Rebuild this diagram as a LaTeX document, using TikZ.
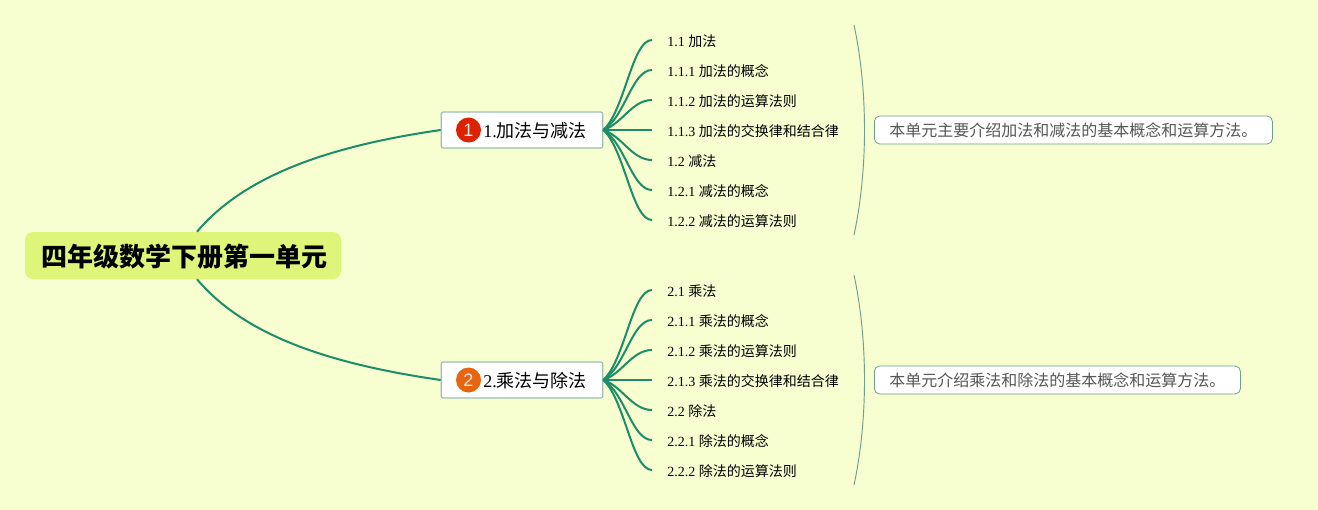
\documentclass[tikz,border=0pt]{standalone}
\usepackage{fontspec}
\setmainfont{Liberation Serif}
\newfontfamily\cjk{Noto Sans CJK SC}
\newfontfamily\badgefont{Liberation Sans}
\usetikzlibrary{positioning, calc}
\definecolor{paper}{HTML}{F7FFD1}
\definecolor{rootfill}{HTML}{DFF57A}
\definecolor{branch}{HTML}{1D8C68}
\definecolor{edgegray}{HTML}{9CBFB0}
\definecolor{bracegray}{HTML}{6E9E8C}
\definecolor{summarytext}{HTML}{555555}
\definecolor{badgered}{HTML}{DD2200}
\definecolor{badgeorange}{HTML}{E8650F}
\tikzstyle{rootbox} = [rectangle, rounded corners=6pt, fill=rootfill, align=center, minimum height=35.25pt, minimum width=237pt, inner sep=0pt, text height=20pt, text depth=4pt, font=\cjk\bfseries\fontsize{19.5}{22}\selectfont]
\tikzstyle{topicbox} = [draw=edgegray, rectangle, rounded corners=1.5pt, line width=0.9pt, fill=white, minimum height=27pt, inner xsep=12pt, inner ysep=0pt, text height=13.5pt, text depth=2.25pt, font=\fontsize{13.5}{16}\selectfont]
\tikzstyle{badge} = [circle, minimum size=18.75pt, inner sep=0pt, text=white!90!badgered, font=\badgefont\fontsize{13.5}{15}\selectfont]
\tikzstyle{leaf} = [anchor=west, inner xsep=11.25pt, inner ysep=0pt, text height=11.25pt, text depth=1.5pt, font=\fontsize{10.5}{13}\selectfont]
\tikzstyle{summary} = [draw=bracegray, rectangle, rounded corners=4pt, line width=0.6pt, fill=white, anchor=west, minimum height=21pt, inner xsep=11.25pt, inner ysep=0pt, text=summarytext, font=\cjk\fontsize{12}{14}\selectfont]
\tikzstyle{link} = [branch, line width=1.5pt]
\tikzstyle{bracket} = [bracegray, line width=0.7pt]

\begin{document}
\begin{tikzpicture}[x=0.75pt, y=-0.75pt]
        \fill[paper] (0,0) rectangle (1318,510);
        \useasboundingbox (0,0) rectangle (1318,510);
        \node[rootbox] (root) at (183,255.5) {\hspace*{2pt}四年级数学下册第一单元};
        \node[topicbox] (topica) at (522,130) {\hspace*{19.5pt}1.{\cjk 加法与减法}};
        \node[topicbox] (topicb) at (522,380) {\hspace*{19.5pt}2.{\cjk 乘法与除法}};
        \node[badge, fill=badgered] (badgea) at (468.5,130) {1};
        \node[badge, fill=badgeorange] (badgeb) at (468.5,380) {2};
        \node[leaf] (a1) at (652,40) {1.1 {\cjk 加法}};
        \node[leaf] (a2) at (652,70) {1.1.1 {\cjk 加法的概念}};
        \node[leaf] (a3) at (652,100) {1.1.2 {\cjk 加法的运算法则}};
        \node[leaf] (a4) at (652,130) {1.1.3 {\cjk 加法的交换律和结合律}};
        \node[leaf] (a5) at (652,160) {1.2 {\cjk 减法}};
        \node[leaf] (a6) at (652,190) {1.2.1 {\cjk 减法的概念}};
        \node[leaf] (a7) at (652,220) {1.2.2 {\cjk 减法的运算法则}};
        \node[leaf] (b1) at (652,290) {2.1 {\cjk 乘法}};
        \node[leaf] (b2) at (652,320) {2.1.1 {\cjk 乘法的概念}};
        \node[leaf] (b3) at (652,350) {2.1.2 {\cjk 乘法的运算法则}};
        \node[leaf] (b4) at (652,380) {2.1.3 {\cjk 乘法的交换律和结合律}};
        \node[leaf] (b5) at (652,410) {2.2 {\cjk 除法}};
        \node[leaf] (b6) at (652,440) {2.2.1 {\cjk 除法的概念}};
        \node[leaf] (b7) at (652,470) {2.2.2 {\cjk 除法的运算法则}};
        \node[summary] (notea) at (874,130) {本单元主要介绍加法和减法的基本概念和运算方法。};
        \node[summary] (noteb) at (874,380) {本单元介绍乘法和除法的基本概念和运算方法。};
        \coordinate (bracketa1) at (854,25);
        \coordinate (bracketa2) at (854,235);
        \coordinate (bracketb1) at (854,275);
        \coordinate (bracketb2) at (854,485);
        \draw[link] ([xshift=10.5pt]root.north) .. controls (245,175) and (330,146) .. (topica.west);
        \draw[link] ([xshift=10.5pt]root.south) .. controls (245,336) and (330,364) .. (topicb.west);
        \draw[link] (topica.east) .. controls (625,110) and (632,40) .. (a1.west);
        \draw[link] (topica.east) .. controls (625,117) and (632,70) .. (a2.west);
        \draw[link] (topica.east) .. controls (622,124) and (632,100) .. (a3.west);
        \draw[link] (topica.east) -- (a4.west);
        \draw[link] (topica.east) .. controls (622,136) and (632,160) .. (a5.west);
        \draw[link] (topica.east) .. controls (625,143) and (632,190) .. (a6.west);
        \draw[link] (topica.east) .. controls (625,150) and (632,220) .. (a7.west);
        \draw[link] (topicb.east) .. controls (625,360) and (632,290) .. (b1.west);
        \draw[link] (topicb.east) .. controls (625,367) and (632,320) .. (b2.west);
        \draw[link] (topicb.east) .. controls (622,374) and (632,350) .. (b3.west);
        \draw[link] (topicb.east) -- (b4.west);
        \draw[link] (topicb.east) .. controls (622,386) and (632,410) .. (b5.west);
        \draw[link] (topicb.east) .. controls (625,393) and (632,440) .. (b6.west);
        \draw[link] (topicb.east) .. controls (625,400) and (632,470) .. (b7.west);
        \draw[bracket] (bracketa1) .. controls (868,90) and (868,170) .. (bracketa2);
        \draw[bracket] (bracketb1) .. controls (868,340) and (868,420) .. (bracketb2);
    \end{tikzpicture}
\end{document}
